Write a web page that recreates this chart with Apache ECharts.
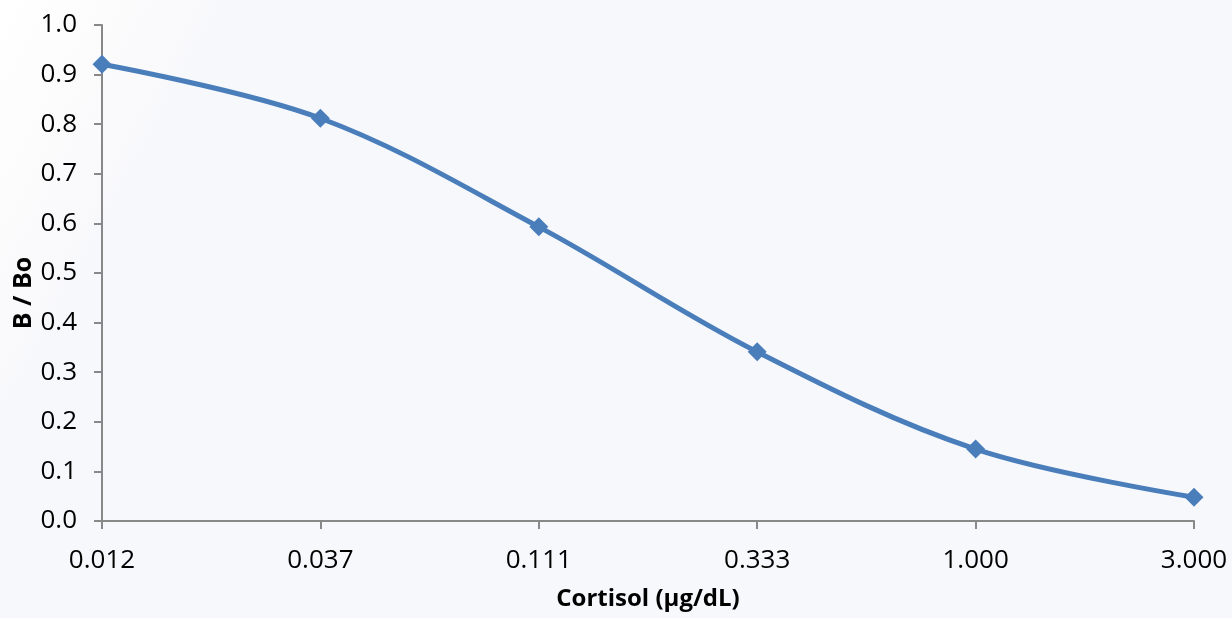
<!DOCTYPE html>
<html>
<head>
<meta charset="utf-8">
<script src="https://cdn.jsdelivr.net/npm/echarts@6/dist/echarts.min.js"></script>
<style>
html,body{margin:0;padding:0;background:#f7f8fc;}
#main{width:1232px;height:618px;}
</style>
</head>
<body>
<div id="main"></div>
<script>
// 标准曲线数据
var categories = ['0.012', '0.037', '0.111', '0.333', '1.000', '3.000'];
var bBo = [0.921, 0.812, 0.593, 0.341, 0.145, 0.048];
var yTicks = {min: 0, max: 1, interval: 0.1};

var font = '"Open Sans", "Noto Sans", sans-serif';
var axisGray = '#888888';

var option = {
    // 左上角的淡白色斜向渐变
    backgroundColor: new echarts.graphic.LinearGradient(0, 0, 176, 94, [
        {offset: 0, color: '#ffffff'},
        {offset: 0.9, color: '#f9f9fb'},
        {offset: 1, color: '#f7f8fc'}
    ], true),
    animation: false,
    grid: {
        left: 102,
        right: 38,
        top: 25,
        bottom: 97,
        outerBoundsMode: 'none'
    },
    xAxis: {
        type: 'category',
        boundaryGap: false,
        data: categories,
        name: 'Cortisol (µg/dL)',
        nameLocation: 'middle',
        nameGap: 66,
        nameMoveOverlap: false,
        nameTextStyle: {fontFamily: font, fontSize: 24, fontWeight: 'bold', color: '#000'},
        axisLine: {lineStyle: {color: axisGray, width: 2}},
        axisTick: {alignWithLabel: true, length: 8, lineStyle: {color: axisGray, width: 2}},
        axisLabel: {fontFamily: font, fontSize: 26, color: '#000', margin: 27},
        splitLine: {show: false}
    },
    yAxis: {
        type: 'value',
        min: yTicks.min,
        max: yTicks.max,
        interval: yTicks.interval,
        name: 'B / Bo',
        nameLocation: 'middle',
        nameGap: 66,
        nameRotate: 90,
        nameMoveOverlap: false,
        nameTextStyle: {
            fontFamily: font, fontSize: 25, fontWeight: 'bold', color: '#000',
            padding: [0, 40, 0, 0]
        },
        axisLine: {show: true, lineStyle: {color: axisGray, width: 2}},
        axisTick: {show: true, length: 8, lineStyle: {color: axisGray, width: 2}},
        axisLabel: {
            fontFamily: font, fontSize: 26, color: '#000', margin: 25,
            formatter: function (v) { return v.toFixed(1); }
        },
        splitLine: {show: false}
    },
    series: [
        {
            name: 'B/Bo',
            type: 'line',
            smooth: 0.35,
            data: bBo,
            symbol: 'diamond',
            symbolSize: 19,
            lineStyle: {color: '#4a7ebb', width: 5},
            itemStyle: {color: '#4a7ebb'}
        }
    ]
};

echarts.init(document.getElementById('main')).setOption(option);
</script>
</body>
</html>
